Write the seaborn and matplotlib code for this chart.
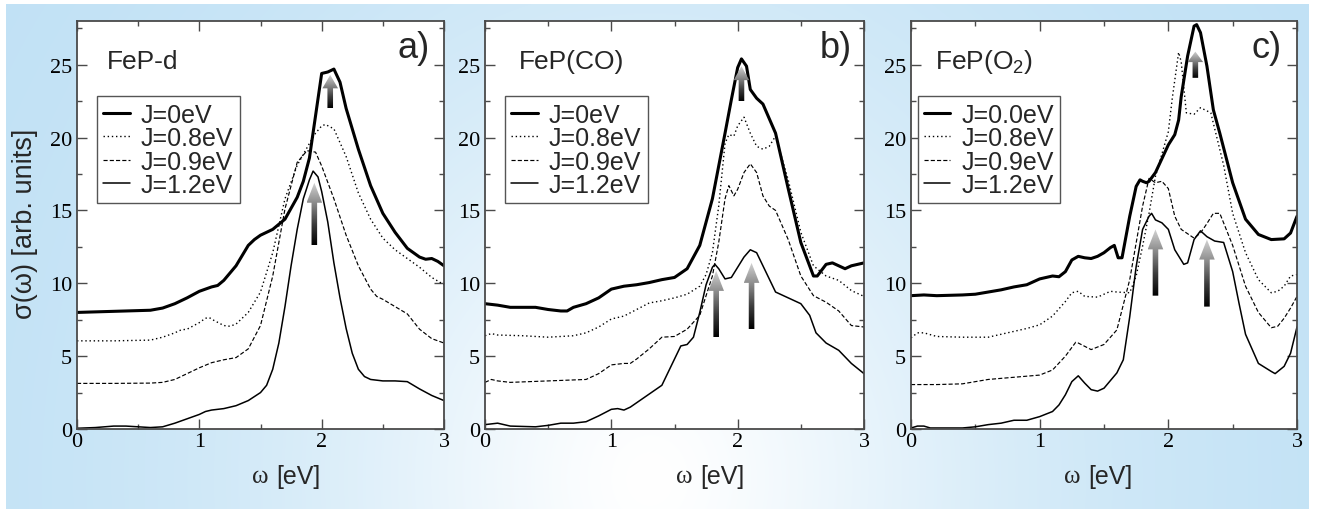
import numpy as np
import matplotlib
matplotlib.use("Agg")
import matplotlib.pyplot as plt
import seaborn as sns
from matplotlib.patches import Polygon
from matplotlib.colors import LinearSegmentedColormap
from matplotlib.ticker import MultipleLocator, FormatStrFormatter
from matplotlib.font_manager import FontProperties

# ---------------------------------------------------------------- data
# optical conductivity sigma(omega), arbitrary units, omega in eV

# a) FeP-d
A_J0_x = [0, 0.2, 0.4, 0.6, 0.7, 0.8, 0.9, 1.0, 1.1, 1.15, 1.2, 1.3, 1.4, 1.45, 1.5, 1.6, 1.7, 1.8, 1.85,
          1.9, 1.95, 2.0, 2.05, 2.1, 2.15, 2.2, 2.3, 2.4, 2.5, 2.6, 2.7, 2.8, 2.85, 2.9, 2.95, 3.0]
A_J0_y = [8.0, 8.05, 8.1, 8.15, 8.3, 8.6, 9.0, 9.45, 9.75, 9.85, 10.2, 11.2, 12.6, 13.0, 13.3, 13.7, 14.4, 15.9, 17.0,
          18.6, 21.5, 24.4, 24.5, 24.7, 23.8, 22.0, 19.2, 16.7, 14.8, 13.5, 12.4, 11.8, 11.65, 11.7, 11.5, 11.2]
A_J08_x = [0, 0.3, 0.6, 0.7, 0.8, 0.85, 0.9, 1.0, 1.05, 1.08, 1.12, 1.2, 1.25, 1.3, 1.4, 1.5, 1.6, 1.7, 1.8,
           1.9, 1.95, 2.0, 2.03, 2.1, 2.2, 2.3, 2.4, 2.5, 2.6, 2.7, 2.8, 2.9, 3.0]
A_J08_y = [6.05, 6.05, 6.1, 6.3, 6.6, 6.8, 6.85, 7.3, 7.6, 7.65, 7.45, 7.1, 7.05, 7.2, 8.0, 9.4, 12.1, 15.8, 18.1,
           19.6, 20.3, 20.8, 20.9, 20.6, 18.7, 16.2, 14.4, 13.1, 12.3, 11.7, 11.1, 10.4, 9.9]
A_J09_x = [0, 0.3, 0.6, 0.7, 0.8, 0.9, 1.0, 1.1, 1.2, 1.3, 1.4, 1.5, 1.6, 1.7, 1.8, 1.88, 1.95, 2.0, 2.1,
           2.2, 2.3, 2.4, 2.45, 2.5, 2.6, 2.7, 2.8, 2.9, 3.0]
A_J09_y = [3.13, 3.13, 3.15, 3.2, 3.4, 3.8, 4.2, 4.55, 4.75, 4.9, 5.5, 7.1, 10.5, 15.1, 18.3, 19.1, 19.0, 18.05, 15.8,
           13.3, 11.2, 9.6, 9.1, 8.9, 8.4, 7.9, 6.85, 6.2, 5.9]
A_J12_x = [0, 0.15, 0.3, 0.4, 0.5, 0.6, 0.7, 0.8, 0.9, 1.0, 1.05, 1.1, 1.2, 1.3, 1.4, 1.5, 1.55, 1.6, 1.65, 1.7,
           1.75, 1.8, 1.85, 1.9, 1.93, 1.97, 2.0, 2.05, 2.1, 2.15, 2.2, 2.25, 2.3, 2.35, 2.4, 2.5, 2.6, 2.7,
           2.8, 2.9, 3.0]
A_J12_y = [0.05, 0.1, 0.2, 0.2, 0.15, 0.1, 0.15, 0.4, 0.7, 1.0, 1.2, 1.3, 1.4, 1.6, 1.95, 2.5, 3.0, 4.1, 5.9, 8.4,
           11.2, 13.7, 15.8, 17.1, 17.7, 17.3, 16.3, 14.2, 11.4, 9.0, 6.9, 5.2, 4.1, 3.6, 3.4, 3.3, 3.3, 3.25,
           2.75, 2.3, 1.95]

# b) FeP(CO)
B_J0_x = [0, 0.1, 0.2, 0.3, 0.4, 0.5, 0.6, 0.65, 0.7, 0.8, 0.9, 1.0, 1.1, 1.2, 1.3, 1.4, 1.5, 1.6, 1.7, 1.8,
          1.9, 1.95, 2.0, 2.03, 2.07, 2.1, 2.15, 2.2, 2.3, 2.4, 2.5, 2.6, 2.63, 2.7, 2.75, 2.8, 2.85, 2.9, 3.0]
B_J0_y = [8.6, 8.5, 8.35, 8.35, 8.35, 8.2, 8.1, 8.1, 8.35, 8.6, 9.0, 9.6, 9.8, 9.9, 10.05, 10.25, 10.4, 11.0, 12.6, 15.8,
          20.3, 22.6, 24.8, 25.4, 24.9, 23.3, 22.7, 22.3, 20.3, 16.5, 12.8, 10.5, 10.5, 11.3, 11.4, 11.2, 11.0, 11.2, 11.4]
B_J08_x = [0, 0.05, 0.1, 0.3, 0.5, 0.7, 0.8, 0.9, 1.0, 1.1, 1.2, 1.3, 1.4, 1.5, 1.6, 1.7, 1.75, 1.8, 1.85,
           1.9, 1.93, 1.97, 2.0, 2.05, 2.1, 2.15, 2.2, 2.25, 2.3, 2.4, 2.5, 2.6, 2.7, 2.8, 2.9, 3.0]
B_J08_y = [6.4, 6.55, 6.45, 6.4, 6.3, 6.4, 6.6, 7.0, 7.55, 7.75, 8.2, 8.65, 8.8, 9.0, 9.25, 9.8, 10.6, 12.1, 15.3,
           19.6, 20.2, 20.1, 20.8, 21.4, 20.3, 19.4, 19.2, 19.4, 20.1, 17.1, 13.5, 11.2, 10.5, 10.2, 9.5, 9.1]
B_J09_x = [0, 0.05, 0.1, 0.2, 0.5, 0.8, 0.9, 1.0, 1.1, 1.15, 1.2, 1.3, 1.4, 1.5, 1.6, 1.7, 1.8, 1.85,
           1.9, 1.93, 1.97, 2.0, 2.05, 2.1, 2.15, 2.2, 2.25, 2.3, 2.4, 2.5, 2.6, 2.7, 2.8, 2.9, 3.0]
B_J09_y = [3.2, 3.4, 3.3, 3.2, 3.3, 3.4, 3.8, 4.4, 4.5, 4.5, 4.8, 5.5, 6.3, 6.35, 6.85, 7.8, 10.5, 12.8,
           15.8, 16.7, 16.0, 16.45, 17.6, 18.2, 17.6, 16.0, 15.3, 15.0, 13.0, 10.5, 9.15, 8.7, 8.1, 7.1, 7.0]
B_J12_x = [0, 0.1, 0.2, 0.4, 0.5, 0.6, 0.7, 0.8, 0.9, 1.0, 1.05, 1.1, 1.15, 1.2, 1.3, 1.4, 1.5, 1.55, 1.6,
           1.65, 1.7, 1.75, 1.8, 1.82, 1.85, 1.9, 1.95, 2.0, 2.05, 2.1, 2.15, 2.2, 2.3, 2.4, 2.5, 2.57,
           2.62, 2.7, 2.8, 2.9, 3.0]
B_J12_y = [0.3, 0.4, 0.2, 0.15, 0.25, 0.4, 0.4, 0.5, 0.9, 1.35, 1.4, 1.3, 1.5, 1.8, 2.4, 3.0, 4.8, 5.7, 5.8,
           6.3, 8.0, 9.9, 11.1, 11.3, 11.0, 10.3, 10.4, 11.1, 11.8, 12.3, 12.1, 11.2, 9.4, 9.0, 8.6, 7.8,
           6.6, 5.9, 5.4, 4.5, 3.8]

# c) FeP(O2)
C_J0_x = [0, 0.1, 0.2, 0.4, 0.5, 0.6, 0.7, 0.8, 0.9, 1.0, 1.1, 1.15, 1.2, 1.25, 1.3, 1.35, 1.4, 1.45, 1.5,
          1.55, 1.58, 1.61, 1.64, 1.7, 1.75, 1.78, 1.8, 1.83, 1.85, 1.9, 2.0, 2.05, 2.08, 2.1, 2.15, 2.2,
          2.22, 2.25, 2.3, 2.35, 2.4, 2.5, 2.6, 2.7, 2.8, 2.9, 2.95, 3.0]
C_J0_y = [9.15, 9.2, 9.15, 9.2, 9.25, 9.4, 9.55, 9.75, 9.9, 10.3, 10.5, 10.45, 10.8, 11.6, 11.85, 11.75, 11.7, 11.85, 12.1,
          12.45, 12.6, 11.75, 11.75, 14.6, 16.65, 17.1, 17.0, 16.9, 17.0, 17.6, 19.5, 20.2, 21.2, 22.8, 25.6, 27.65,
          27.75, 27.2, 24.9, 21.9, 20.3, 16.9, 14.4, 13.35, 13.0, 13.05, 13.45, 14.6]
C_J08_x = [0, 0.05, 0.1, 0.2, 0.4, 0.6, 0.7, 0.8, 0.9, 1.0, 1.1, 1.2, 1.25, 1.3, 1.35, 1.45, 1.5, 1.55, 1.6,
           1.7, 1.75, 1.8, 1.85, 1.9, 2.0, 2.03, 2.08, 2.1, 2.14, 2.2, 2.25, 2.33, 2.38, 2.43, 2.5, 2.6,
           2.7, 2.8, 2.85, 2.9, 2.95, 3.0]
C_J08_y = [6.25, 6.6, 6.6, 6.35, 6.3, 6.3, 6.5, 6.7, 6.9, 7.15, 7.75, 8.75, 9.35, 9.45, 9.1, 9.05, 9.25, 9.45, 9.4,
           9.35, 10.5, 12.55, 14.8, 17.35, 20.4, 22.65, 25.85, 25.2, 21.7, 21.6, 22.05, 21.7, 19.9, 18.1, 14.8, 12.1,
           10.25, 9.35, 9.45, 9.8, 10.5, 10.6]
C_J09_x = [0, 0.2, 0.4, 0.6, 0.8, 1.0, 1.1, 1.2, 1.28, 1.3, 1.4, 1.5, 1.6, 1.7, 1.8, 1.85, 1.9, 1.95, 2.0,
           2.05, 2.1, 2.2, 2.25, 2.3, 2.35, 2.4, 2.5, 2.6, 2.7, 2.8, 2.85, 2.9, 2.95, 3.0]
C_J09_y = [3.05, 3.05, 3.1, 3.4, 3.55, 3.7, 4.05, 5.0, 5.95, 5.9, 5.45, 5.8, 6.8, 10.25, 15.3, 17.2, 16.9, 17.0, 16.5,
           14.6, 13.7, 13.1, 13.45, 14.1, 14.8, 14.8, 12.6, 9.8, 8.0, 6.95, 7.05, 7.6, 8.3, 9.1]
C_J12_x = [0, 0.05, 0.1, 0.15, 0.4, 0.5, 0.6, 0.7, 0.8, 0.9, 1.0, 1.1, 1.15, 1.2, 1.25, 1.3, 1.35, 1.4, 1.45,
           1.5, 1.6, 1.65, 1.7, 1.75, 1.8, 1.85, 1.87, 1.9, 1.95, 2.0, 2.05, 2.12, 2.15, 2.2, 2.25, 2.3,
           2.36, 2.43, 2.5, 2.55, 2.6, 2.7, 2.8, 2.83, 2.9, 2.95, 3.0]
C_J12_y = [0.07, 0.2, 0.2, 0.07, 0.07, 0.15, 0.3, 0.4, 0.6, 0.6, 0.85, 1.2, 1.65, 2.35, 3.25, 3.65, 3.15, 2.7, 2.6,
           2.8, 3.85, 4.75, 7.7, 11.15, 13.7, 14.6, 14.8, 14.35, 14.15, 13.7, 12.3, 11.3, 11.4, 13.0, 13.6, 13.2,
           12.9, 12.8, 10.8, 8.6, 6.5, 4.5, 3.95, 3.8, 4.3, 5.2, 7.0]

LABELS_AB = ["J=0eV", "J=0.8eV", "J=0.9eV", "J=1.2eV"]
LABELS_C = ["J=0.0eV", "J=0.8eV", "J=0.9eV", "J=1.2eV"]
TITLES = ["FeP-d", "FeP(CO)", "FeP(O$_\\mathregular{2}$)"]
TAGS = ["a)", "b)", "c)"]

# arrows marking the peaks: (omega, base, tip)
A_ARROWS = [(1.94, 12.6, 16.9), (2.07, 22.0, 24.3)]
B_ARROWS = [(1.83, 6.3, 10.85), (2.11, 6.85, 11.4), (2.03, 22.5, 24.9)]
C_ARROWS = [(1.90, 9.15, 13.7), (2.30, 8.4, 13.0), (2.21, 24.1, 25.9)]

# ---------------------------------------------------------------- style
SANS = "Liberation Sans"
SERIF = "Liberation Serif"

sns.set_theme(style="ticks")
plt.rcParams.update({
    "font.family": [SANS, "DejaVu Sans"],
    "mathtext.fontset": "custom",
    "mathtext.rm": SANS,
    "axes.formatter.use_mathtext": False,
    "axes.edgecolor": "#4a4a4a",
    "axes.linewidth": 1.3,
    "xtick.color": "#4a4a4a",
    "ytick.color": "#4a4a4a",
    "xtick.labelcolor": "black",
    "ytick.labelcolor": "black",
    "lines.solid_joinstyle": "round",
    "lines.dash_joinstyle": "round",
})
TICK_FONT = FontProperties(family=SERIF, size=16)

W, H = 1320, 510
fig = plt.figure(figsize=(W / 100, H / 100), dpi=100)
fig.patch.set_facecolor("white")

# soft blue backdrop fading to white behind the middle panel
bg = fig.add_axes([0, 0, 1, 1], zorder=-10)
bg.set_axis_off()
yy, xx = np.mgrid[0:H, 0:W] + 0.5
r = (((xx - 650) / 380) ** 2 + ((yy - 480) / 430) ** 2) ** 0.75
wgt = np.exp(-r)[..., None]
blue = np.array([0.745, 0.878, 0.960])
img = blue * (1 - wgt) + wgt
img[(xx < 6) | (xx >= 1309) | (yy < 5)] = 1.0
bg.imshow(img, extent=[0, 1, 0, 1], origin="upper", aspect="auto", interpolation="bilinear")
bg.set_xlim(0, 1)
bg.set_ylim(0, 1)

arrow_cmap = LinearSegmentedColormap.from_list(
    "arrowfade", ["#000000", "#3c3c3c", "#8a8a8a", "#d4d4d4"])


def gradient_arrow(ax, x, y0, y1):
    tr = ax.transData
    bx, by = tr.transform((x, y0))
    _, ty = tr.transform((x, y1))
    length = ty - by
    head_len = min(20.0, 0.4 * length)
    shaft, head = 2.8, 7.8
    neck = ty - head_len
    px = [(bx - shaft, by), (bx + shaft, by), (bx + shaft, neck), (bx + head, neck),
          (bx, ty), (bx - head, neck), (bx - shaft, neck)]
    pts = tr.inverted().transform(px)
    patch = Polygon(pts, closed=True, transform=tr, facecolor="none", edgecolor="none")
    ax.add_patch(patch)
    x0 = pts[:, 0].min()
    x1 = pts[:, 0].max()
    grad = np.linspace(0, 1, 256).reshape(-1, 1)
    im = ax.imshow(grad, extent=[x0, x1, y0, y1], origin="lower", cmap=arrow_cmap,
                   aspect="auto", zorder=4, interpolation="bilinear")
    im.set_clip_path(patch)


panels = [
    dict(rect=[77, 22, 367, 408], series=[(A_J0_x, A_J0_y), (A_J08_x, A_J08_y), (A_J09_x, A_J09_y), (A_J12_x, A_J12_y)],
         labels=LABELS_AB, arrows=A_ARROWS, leg_x=0.055, title_x=0.082, tag_x=0.962, wlab=252),
    dict(rect=[485, 22, 379, 408], series=[(B_J0_x, B_J0_y), (B_J08_x, B_J08_y), (B_J09_x, B_J09_y), (B_J12_x, B_J12_y)],
         labels=LABELS_AB, arrows=B_ARROWS, leg_x=0.053, title_x=0.09, tag_x=0.968, wlab=676),
    dict(rect=[911, 22, 386, 408], series=[(C_J0_x, C_J0_y), (C_J08_x, C_J08_y), (C_J09_x, C_J09_y), (C_J12_x, C_J12_y)],
         labels=LABELS_C, arrows=C_ARROWS, leg_x=0.018, title_x=0.062, tag_x=0.961, wlab=1064),
]

line_styles = [
    dict(linewidth=2.2, linestyle="-"),
    dict(linewidth=1.0, linestyle=(0, (1, 2))),
    dict(linewidth=0.85, linestyle=(0, (3.5, 1.8))),
    dict(linewidth=1.1, linestyle="-"),
]

axes = []
for i, p in enumerate(panels):
    lx, ty, pw, ph = p["rect"]
    ax = fig.add_axes([lx / W, 1 - (ty + ph) / H, pw / W, ph / H])
    axes.append(ax)
    ax.set_facecolor("white")
    for (xs, ys), lab, st in zip(p["series"], p["labels"], line_styles):
        sns.lineplot(x=xs, y=ys, ax=ax, color="black", label=lab, estimator=None,
                     sort=False, **st)
    ax.set_xlim(0, 3)
    ax.set_ylim(0, 28)
    ax.xaxis.set_major_locator(MultipleLocator(1))
    ax.xaxis.set_minor_locator(MultipleLocator(0.5))
    ax.yaxis.set_major_locator(MultipleLocator(5))
    ax.yaxis.set_minor_locator(MultipleLocator(2.5))
    ax.xaxis.set_major_formatter(FormatStrFormatter("%d"))
    ax.yaxis.set_major_formatter(FormatStrFormatter("%d"))
    ax.tick_params(which="both", direction="in", top=True, right=True, width=1.0)
    ax.tick_params(which="major", length=7)
    ax.tick_params(which="minor", length=3.8)
    ax.tick_params(axis="x", which="major", pad=2.5)
    ax.tick_params(axis="y", which="major", pad=3.5)
    ax.set_xlabel("")
    ax.set_ylabel("")

    for (x, y0, y1) in p["arrows"]:
        gradient_arrow(ax, x, y0, y1)
    ax.set_xlim(0, 3)
    ax.set_ylim(0, 28)

    leg = ax.legend(loc="upper left", bbox_to_anchor=(p["leg_x"], 0.815), borderaxespad=0,
                    prop={"family": SANS, "size": 18}, frameon=True, fancybox=False,
                    framealpha=1, edgecolor="#555555", facecolor="white", handlelength=1.05,
                    handletextpad=0.45, labelspacing=-0.02, borderpad=0.25)
    leg.get_frame().set_linewidth(1.0)
    leg.set_zorder(6)

    ax.text(p["title_x"], 0.902, TITLES[i], transform=ax.transAxes, fontsize=19,
            family=SANS, ha="left", va="center")
    ax.text(p["tag_x"], 0.936, TAGS[i], transform=ax.transAxes, fontsize=26,
            family=SANS, ha="right", va="center")

    # x-axis caption: serif omega followed by the unit
    fig.text(p["wlab"] / W, 1 - 477 / H, "ω", family=SERIF, fontsize=18,
             ha="left", va="center")
    fig.text((p["wlab"] + 24) / W, 1 - 477 / H, "[eV]", family=SANS, fontsize=18,
             ha="left", va="center")

fig.text(25 / W, 1 - 224 / H, "σ(ω) [arb. units]", rotation=90, fontsize=19.5,
         family=SANS, ha="center", va="center")

# tick numbers in the serif face
fig.canvas.draw()
for ax in axes:
    for t in ax.get_xticklabels() + ax.get_yticklabels():
        t.set_fontproperties(TICK_FONT)

fig.savefig("out.png", dpi=100)
